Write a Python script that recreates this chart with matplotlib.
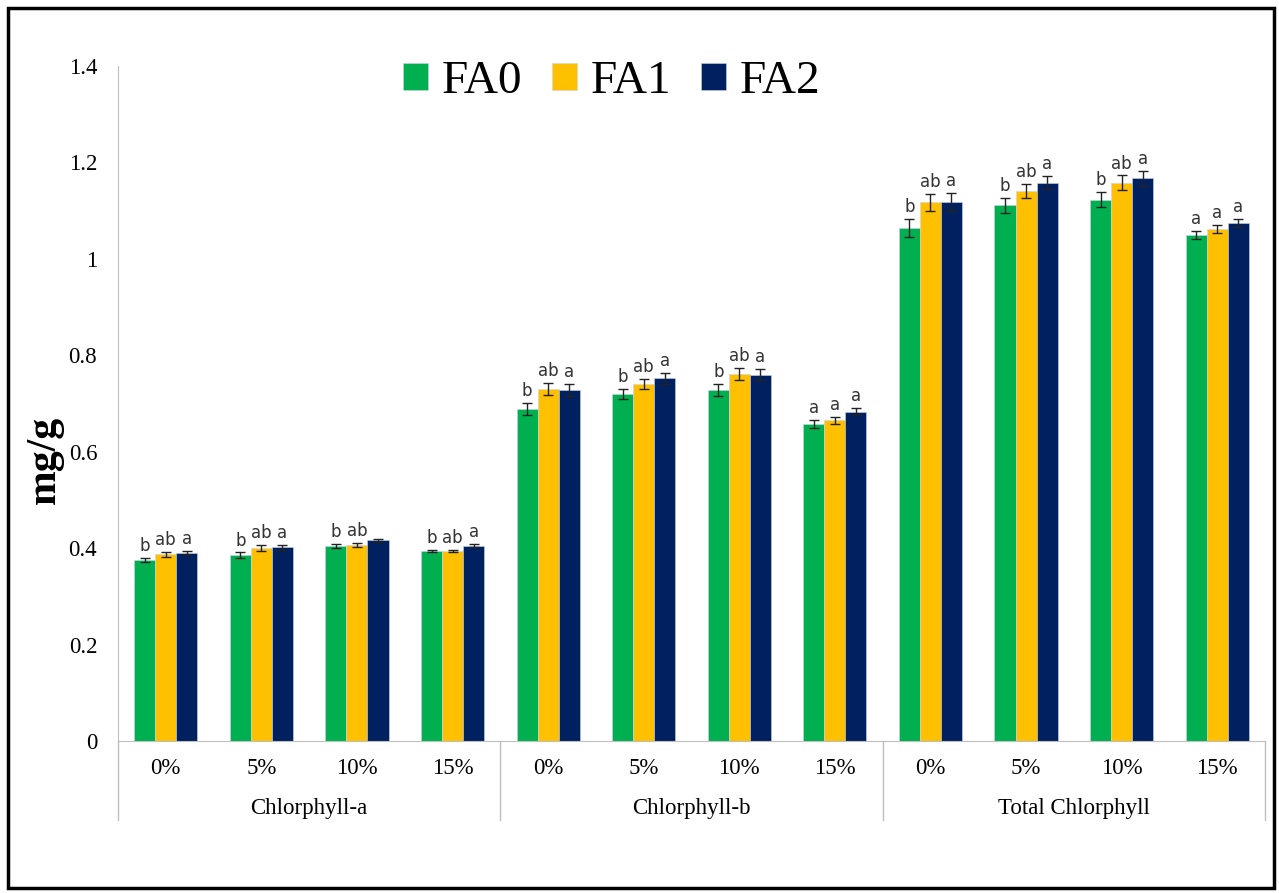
import matplotlib.pyplot as plt
from matplotlib.patches import Rectangle
import numpy as np

levels = ['0%', '5%', '10%', '15%']
groups = ['Chlorphyll-a', 'Chlorphyll-b', 'Total Chlorphyll']
series = ['FA0', 'FA1', 'FA2']
colors = ['#00B050', '#FFC000', '#002060']

fa0 = [0.376, 0.385, 0.404, 0.394,
       0.689, 0.720, 0.728, 0.657,
       1.064, 1.111, 1.123, 1.049]
fa1 = [0.387, 0.400, 0.407, 0.394,
       0.730, 0.741, 0.761, 0.665,
       1.117, 1.141, 1.158, 1.062]
fa2 = [0.390, 0.402, 0.416, 0.405,
       0.728, 0.752, 0.760, 0.683,
       1.118, 1.158, 1.167, 1.075]

err0 = [0.004, 0.006, 0.004, 0.003,
        0.013, 0.010, 0.012, 0.008,
        0.018, 0.015, 0.015, 0.008]
err1 = [0.005, 0.006, 0.004, 0.003,
        0.013, 0.010, 0.012, 0.008,
        0.018, 0.014, 0.015, 0.008]
err2 = [0.004, 0.005, 0.003, 0.003,
        0.012, 0.011, 0.012, 0.007,
        0.018, 0.014, 0.015, 0.008]

let0 = ['b', 'b', 'b', 'b', 'b', 'b', 'b', 'a', 'b', 'b', 'b', 'a']
let1 = ['ab', 'ab', 'ab', 'ab', 'ab', 'ab', 'ab', 'a', 'ab', 'ab', 'ab', 'a']
let2 = ['a', 'a', '', 'a', 'a', 'a', 'a', 'a', 'a', 'a', 'a', 'a']

vals = [fa0, fa1, fa2]
errs = [err0, err1, err2]
lets = [let0, let1, let2]

serif = 'Liberation Serif'

fig = plt.figure(figsize=(12.79, 8.93), dpi=100)
ax = fig.add_axes([118/1279, (893-741)/893, 1147/1279, (741-66)/893])

x = np.arange(len(fa0))
w = 0.22
for i in range(3):
    xi = x + (i - 1) * w
    ax.bar(xi, vals[i], w, color=colors[i], label=series[i],
           edgecolor='#c8d4e8', linewidth=0.4)
    ax.errorbar(xi, vals[i], yerr=errs[i], fmt='none', ecolor='#222222',
                elinewidth=1, capsize=3.5, capthick=1)
    for j in range(len(x)):
        if lets[i][j]:
            ax.text(xi[j], vals[i][j] + errs[i][j] + 0.006, lets[i][j],
                    ha='center', va='bottom', fontsize=12, color='#333333',
                    family='DejaVu Sans')

ax.set_xlim(-0.5, len(x) - 0.5)
ax.set_ylim(0, 1.4)
ax.set_yticks(np.arange(0, 1.41, 0.2))
ax.set_yticklabels(['0', '0.2', '0.4', '0.6', '0.8', '1', '1.2', '1.4'],
                   family=serif, fontsize=16.5)
ax.tick_params(axis='y', length=0, pad=15)
ax.set_xticks(x)
ax.set_xticklabels(levels * 3, family=serif, fontsize=16.5)
ax.tick_params(axis='x', length=0, pad=12)

for s in ['top', 'right']:
    ax.spines[s].set_visible(False)
ax.spines['left'].set_color('#bfbfbf')
ax.spines['bottom'].set_color('#bfbfbf')

# group dividers and group labels
for b in [-0.5, 3.5, 7.5, 11.5]:
    ax.plot([b, b], [0, -0.117], transform=ax.get_xaxis_transform(),
            color='#bfbfbf', lw=1, clip_on=False)
for k, g in enumerate(groups):
    ax.text(k * 4 + 1.5, -0.1, g, transform=ax.get_xaxis_transform(),
            ha='center', va='center', family=serif, fontsize=16.5)

ax.set_ylabel('mg/g', family=serif, fontsize=30, fontweight='bold')
ax.yaxis.set_label_coords(-0.047, 0.416)

fig.legend(loc='center', bbox_to_anchor=(612/1279, (893-82)/893), ncol=3,
           frameon=False, prop={'family': serif, 'size': 34},
           handlelength=0.52, handleheight=0.52, handletextpad=0.3,
           columnspacing=0.63)

fig.patches.append(Rectangle((8/1279, 5/893), 1266/1279, 880/893,
                             transform=fig.transFigure, fill=False,
                             edgecolor='black', lw=2.5))

fig.savefig('out.png', dpi=100)
